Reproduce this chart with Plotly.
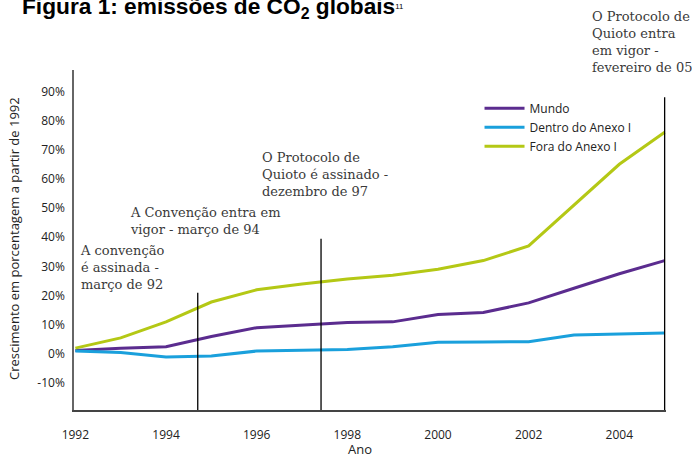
import plotly.graph_objects as go

years = [1992, 1993, 1994, 1995, 1996, 1997, 1998, 1999, 2000, 2001, 2002, 2003, 2004, 2005]
mundo = [1.2, 2.0, 2.5, 6.0, 9.0, 9.8, 10.8, 11.0, 13.5, 14.2, 17.5, 22.5, 27.5, 32.0]
dentro = [1.0, 0.5, -1.0, -0.7, 1.0, 1.2, 1.5, 2.5, 4.0, 4.1, 4.2, 6.5, 6.9, 7.2]
fora = [2.0, 5.5, 11.0, 17.8, 22.0, 24.0, 25.7, 27.0, 29.0, 32.0, 37.0, 51.0, 65.0, 76.0]

series_names = ["Mundo", "Dentro do Anexo I", "Fora do Anexo I"]
series_colors = ["#5B2C8F", "#1AA0DC", "#B4C815"]

event_x = [1994.7, 1997.42, 2005.0]
event_top = [21.0, 39.5, 88.0]
event_labels = [
    "A Convenção entra em<br>vigor - março de 94",
    "O Protocolo de<br>Quioto é assinado -<br>dezembro de 97",
    "O Protocolo de<br>Quioto entra<br>em vigor -<br>fevereiro de 05",
]
first_label = "A convenção<br>é assinada -<br>março de 92"

y_ticks = [-10, 0, 10, 20, 30, 40, 50, 60, 70, 80, 90]
y_ticktext = [f"{v}%" for v in y_ticks]
x_ticks = [1992, 1994, 1996, 1998, 2000, 2002, 2004]

Y_MIN, Y_MAX = -19.2, 97.3

fig = go.Figure()
for name, vals, col in zip(series_names, [mundo, dentro, fora], series_colors):
    fig.add_trace(go.Scatter(x=years, y=vals, mode="lines", name=name,
                             line=dict(color=col, width=3)))

for ex, et in zip(event_x, event_top):
    fig.add_shape(type="line", xref="x", yref="y", x0=ex, x1=ex, y0=Y_MIN, y1=et,
                  line=dict(color="black", width=1.3))

ann_font = dict(family="DejaVu Serif", size=13, color="#3a3a3a")
ann_pos = [(0.092, 0.608), (0.315, 0.772), (0.871, 1.184)]
fig.add_annotation(text=first_label, xref="paper", yref="paper", x=0.006, y=0.496,
                   xanchor="left", yanchor="top", align="left", showarrow=False, font=ann_font)
for txt, (ax, ay) in zip(event_labels, ann_pos):
    fig.add_annotation(text=txt, xref="paper", yref="paper", x=ax, y=ay,
                       xanchor="left", yanchor="top", align="left", showarrow=False, font=ann_font)

fig.add_annotation(text="<b>Figura 1: emissões de CO<sub>2</sub> globais</b><span style='font-size:11px'><sup>11</sup></span>",
                   xref="paper", yref="paper", x=-0.0912, y=1.185, xanchor="left", yanchor="middle",
                   showarrow=False, font=dict(family="Liberation Sans", size=22.7, color="black"))
fig.add_annotation(text="Crescimento em porcentagem a partir de 1992", xref="paper", yref="paper",
                   x=-0.1014, y=0.506, textangle=-90, showarrow=False,
                   xanchor="center", yanchor="middle",
                   font=dict(family="Open Sans", size=13, color="#222222"))
fig.add_annotation(text="Ano", xref="paper", yref="paper", x=0.483, y=-0.115,
                   showarrow=False, yanchor="middle",
                   font=dict(family="Open Sans", size=13, color="#222222"))

fig.update_layout(
    width=692, height=454,
    margin=dict(l=74, r=26, t=70, b=44),
    paper_bgcolor="white", plot_bgcolor="white",
    showlegend=True,
    legend=dict(x=0.685, y=0.93, xanchor="left", yanchor="top",
                font=dict(family="Open Sans", size=12, color="#222222"),
                bgcolor="rgba(0,0,0,0)", tracegroupgap=0, itemwidth=40),
    xaxis=dict(range=[1991.97, 2005.03], tickvals=x_ticks, ticks="", showgrid=False,
               zeroline=False, showline=True, linecolor="#444444", linewidth=1.5,
               tickfont=dict(family="Open Sans", size=12, color="#222222"),
               ticklabelstandoff=13),
    yaxis=dict(range=[Y_MIN, Y_MAX], tickvals=y_ticks, ticktext=y_ticktext, ticks="",
               showgrid=False, zeroline=False, showline=True, linecolor="#666666", linewidth=1.5,
               tickfont=dict(family="Open Sans", size=12, color="#222222"),
               ticklabelstandoff=5),
)

fig.write_html("out.html", config={"displayModeBar": False},
               post_script="document.body.style.margin='0px';document.body.style.padding='0px';")
